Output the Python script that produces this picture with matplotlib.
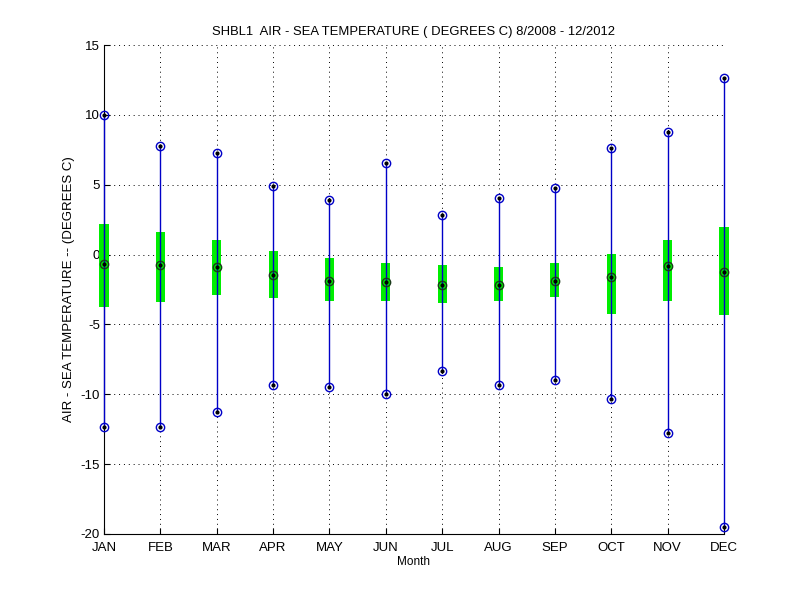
import matplotlib
matplotlib.use('Agg')
import matplotlib.pyplot as plt

# monthly air - sea temperature difference stats (deg C)
months  = ['JAN', 'FEB', 'MAR', 'APR', 'MAY', 'JUN',
           'JUL', 'AUG', 'SEP', 'OCT', 'NOV', 'DEC']
maxs    = [10.0, 7.77, 7.25, 4.91, 3.91, 6.54, 2.81, 4.05, 4.77, 7.65, 8.74, 12.66]
q3      = [2.19, 1.62, 1.05, 0.26, -0.24, -0.60, -0.74, -0.89, -0.60, 0.05, 1.07, 1.94]
medians = [-0.70, -0.77, -0.91, -1.48, -1.91, -1.96, -2.20, -2.20, -1.91, -1.64, -0.85, -1.22]
q1      = [-3.77, -3.37, -2.87, -3.08, -3.34, -3.30, -3.49, -3.34, -3.06, -4.27, -3.31, -4.30]
mins    = [-12.35, -12.36, -11.24, -9.36, -9.48, -9.98, -8.33, -9.33, -8.98, -10.31, -12.78, -19.47]

BLUE = '#0000c8'
GREEN = '#00ee00'

plt.rcParams.update({
    'font.family': ['Liberation Sans', 'DejaVu Sans'],
    'font.size': 9.5,
    'axes.unicode_minus': False,
})

fig = plt.figure(figsize=(8, 6), dpi=100)
ax = fig.add_axes([0.13, 0.11, 0.775, 0.815])

x = list(range(1, len(months) + 1))
heights = [t - b for t, b in zip(q3, q1)]

ax.bar(x, heights, bottom=q1, width=0.16, color=GREEN, zorder=2, clip_on=False)
for xi, lo, hi in zip(x, mins, maxs):
    ax.plot([xi, xi], [lo, hi], color=BLUE, lw=1.0, zorder=3, clip_on=False)

# end points and medians
ax.plot(x, maxs, 'o', mfc='none', mec=BLUE, ms=6, mew=1.0, zorder=4, clip_on=False)
ax.plot(x, mins, 'o', mfc='none', mec=BLUE, ms=6, mew=1.0, zorder=4, clip_on=False)
ax.plot(x, medians, 'o', mfc='none', mec='#1a3a1a', ms=6, mew=1.0, zorder=4, clip_on=False)
for ys in (maxs, mins, medians):
    ax.plot(x, ys, '.', color='black', ms=4, zorder=5, clip_on=False)

ax.set_xlim(1, 12)
ax.set_ylim(-20, 15)
ax.set_xticks(x)
ax.set_xticklabels(months)
ax.set_yticks(range(-20, 16, 5))
ax.tick_params(direction='in', length=4, width=0.8, pad=3)
ax.tick_params(axis='x', pad=6)

ax.grid(True, linestyle=(0, (1, 4)), color='black', lw=0.7)
ax.set_axisbelow(True)
ax.spines['top'].set_visible(False)
ax.spines['right'].set_visible(False)

ax.set_title('SHBL1  AIR - SEA TEMPERATURE ( DEGREES C) 8/2008 - 12/2012',
             fontsize=9.4, pad=7)
ax.set_xlabel('Month', fontsize=8.5, labelpad=1)
ax.set_ylabel('AIR - SEA TEMPERATURE -- (DEGREES C)')

plt.savefig('out.png', dpi=100)
plt.close()
